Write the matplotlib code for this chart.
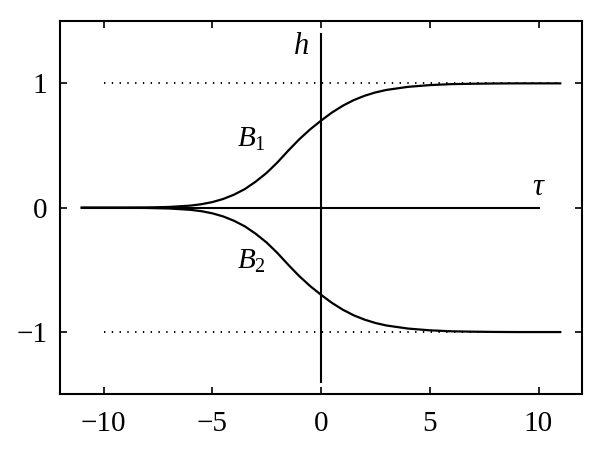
import matplotlib
matplotlib.use("Agg")
import matplotlib.pyplot as plt

# values
tau = [-11, -9, -8, -7, -6, -5.5, -5, -4.5, -4, -3.5, -3, -2.5, -2, -1.5, -1, -0.5,
       0, 0.5, 1, 1.5, 2, 2.5, 3, 4, 5, 6, 7, 8, 9, 10, 11]
b1 = [0.0, 0.0005, 0.002, 0.006, 0.017, 0.028, 0.045, 0.07, 0.105, 0.15, 0.21, 0.28,
      0.365, 0.46, 0.55, 0.63, 0.70, 0.765, 0.82, 0.865, 0.90, 0.927, 0.947, 0.972,
      0.986, 0.994, 0.997, 0.999, 1.0, 1.0, 1.0]
b2 = [-0.0, -0.0005, -0.002, -0.006, -0.017, -0.028, -0.045, -0.07, -0.105, -0.15, -0.21,
      -0.28, -0.365, -0.46, -0.55, -0.63, -0.70, -0.765, -0.82, -0.865, -0.90, -0.927,
      -0.947, -0.972, -0.986, -0.994, -0.997, -0.999, -1.0, -1.0, -1.0]
asymptote_x = [-10, 11]
tau_axis_x = [-11, 10]
h_axis_y = [-1.4, 1.4]
xticks = [-10, -5, 0, 5, 10]
yticks = [-1, 0, 1]

plt.rcParams['font.family'] = ['Liberation Serif', 'DejaVu Serif']
plt.rcParams['mathtext.fontset'] = 'custom'
plt.rcParams['mathtext.rm'] = 'Liberation Serif'
plt.rcParams['mathtext.it'] = 'Liberation Serif:italic'

fig = plt.figure(figsize=(6, 4.71), dpi=100)
ax = fig.add_axes([0.1, 0.163, 0.87, 0.792])

# dotted asymptotes
for lev in (1, -1):
    ax.plot(asymptote_x, [lev, lev], color='black', lw=1.4, linestyle=(0, (0.7, 3.3)))

# axes lines through the origin
ax.plot(tau_axis_x, [0, 0], color='black', lw=1.5)
ax.plot([0, 0], h_axis_y, color='black', lw=1.5)

# branches
ax.plot(tau, b1, color='black', lw=1.6)
ax.plot(tau, b2, color='black', lw=1.6)

ax.text(-0.9, 1.3, r'$h$', fontsize=22, ha='center', va='center')
ax.text(10.0, 0.16, r'$\tau$', fontsize=22, ha='center', va='center')
ax.text(-3.2, 0.55, r'$B_1$', fontsize=21, ha='center', va='center')
ax.text(-3.2, -0.43, r'$B_2$', fontsize=21, ha='center', va='center')

ax.set_xlim(-12, 12)
ax.set_ylim(-1.5, 1.5)
ax.set_xticks(xticks)
ax.set_yticks(yticks)
ax.set_xticklabels(['\u221210', '\u22125', '0', '5', '10'])
ax.set_yticklabels(['\u22121', '0', '1'])
ax.tick_params(direction='in', top=True, right=True, length=5, width=1.2,
               labelsize=21)
ax.tick_params(axis='x', pad=12)
ax.tick_params(axis='y', pad=9)
for sp in ax.spines.values():
    sp.set_linewidth(1.5)

fig.savefig('out.png', dpi=100)
